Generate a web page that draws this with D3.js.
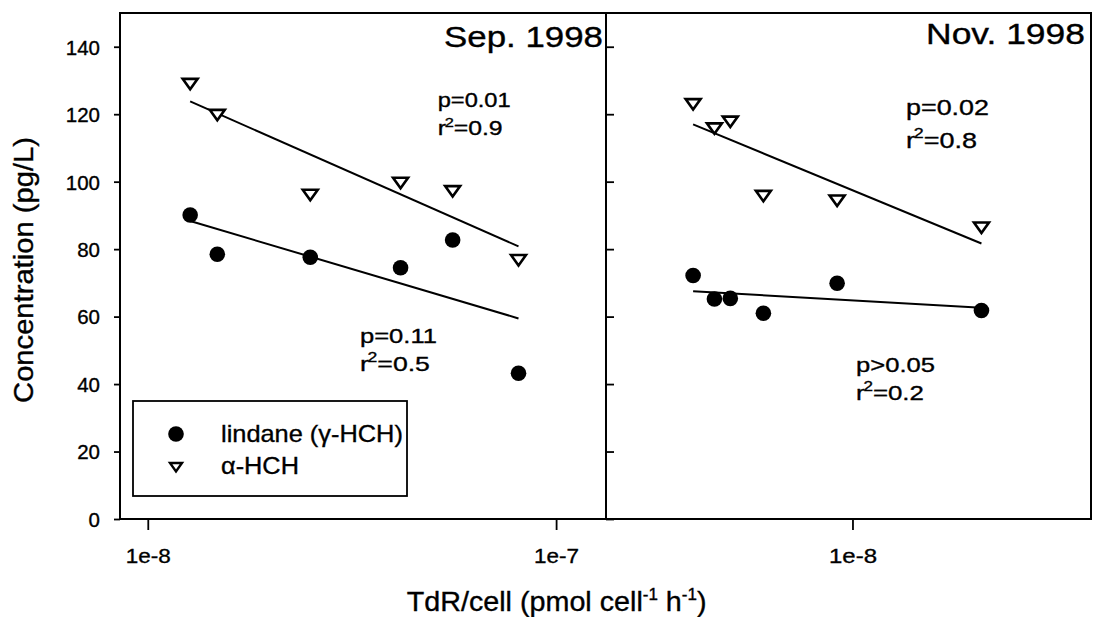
<!DOCTYPE html>
<html><head><meta charset="utf-8">
<script src="https://cdn.jsdelivr.net/npm/d3@7"></script>
<style>
body{margin:0;background:#fff}
svg{display:block}
text{font-family:"Liberation Sans",Arial,Helvetica,sans-serif;fill:#000;stroke:#000;stroke-width:0.35px}
</style></head>
<body><svg id="c" width="1095" height="617"></svg>
<script>
// ---- data ----
const sepX       = [1.27e-8, 1.48e-8, 2.50e-8, 4.16e-8, 5.58e-8, 8.09e-8];
const sepAlpha   = [129.0, 119.8, 96.1, 99.7, 97.2, 76.8];
const sepLindane = [90.1, 78.5, 77.6, 74.5, 82.7, 43.2];
const novX       = [4.07e-9, 4.59e-9, 5.02e-9, 6.05e-9, 9.17e-9, 2.07e-8];
const novAlpha   = [123.0, 115.8, 117.8, 95.8, 94.4, 86.4];
const novLindane = [72.2, 65.2, 65.4, 61.0, 69.9, 61.8];
const yTicks = [0, 20, 40, 60, 80, 100, 120, 140];
const sepTicks = [1e-8, 1e-7], sepTickLabels = ["1e-8", "1e-7"];
const novTicks = [1e-8],       novTickLabels = ["1e-8"];
const panelTitles = ["Sep. 1998", "Nov. 1998"];
const seriesNames = ["lindane (\u03b3-HCH)", "\u03b1-HCH"];
const sepStats = [["p=0.01", "0.9"], ["p=0.11", "0.5"]];   // alpha fit, lindane fit
const novStats = [["p=0.02", "0.8"], ["p>0.05", "0.2"]];

const svg = d3.select("#c");
const y = d3.scaleLinear().domain([0, 150]).range([519, 13]);

function place(t, x, yy, target, extra) {
  t.attr("x", 0).attr("y", 0);
  const w = t.node().getBBox().width;
  t.attr("transform", `translate(${x},${yy}) ${extra || ""} scale(${target / w},1)`);
}
function regress(xs, ys) {
  const lx = xs.map(Math.log10), mx = d3.mean(lx), my = d3.mean(ys);
  let sxy = 0, sxx = 0;
  lx.forEach((v, i) => { sxy += (v - mx) * (ys[i] - my); sxx += (v - mx) * (v - mx); });
  const b = sxy / sxx;
  return x => my + b * (Math.log10(x) - mx);
}
const triPath = "M-7.5,-5L7.5,-5L0,5.5Z";

const panels = [
  {x: sepX, a: sepAlpha, l: sepLindane, ticks: sepTicks, labels: sepTickLabels,
   domain: [8.55e-9, 1.325e-7], range: [120, 606], title: panelTitles[0], titleX: 603, titleY: 46.7,
   stats: sepStats,
   statPos: [{x: 437.7, y1: 106.7, y2: 135, fs: 19.5, w1: 73, w2: 65},
             {x: 360, y1: 343.3, y2: 370.7, fs: 21, w1: 77, w2: 70}],
   tickW: [45, 45]},
  {x: novX, a: novAlpha, l: novLindane, ticks: novTicks, labels: novTickLabels,
   domain: [2.49e-9, 3.84e-8], range: [606, 1091], title: panelTitles[1], titleX: 1085, titleY: 44.3,
   stats: novStats,
   statPos: [{x: 906, y1: 115, y2: 147.5, fs: 22, w1: 83, w2: 71},
             {x: 856, y1: 371.7, y2: 400, fs: 21, w1: 79, w2: 68}],
   tickW: [48]}
];

panels.forEach((p, pi) => {
  const x = d3.scaleLog().domain(p.domain).range(p.range);
  svg.append("rect").attr("x", p.range[0]).attr("y", y(150))
    .attr("width", p.range[1] - p.range[0]).attr("height", y(0) - y(150))
    .attr("fill", "none").attr("stroke", "#000").attr("stroke-width", 2);
  const xa = svg.append("g").attr("transform", `translate(0,${y(0)})`)
    .call(d3.axisBottom(x).tickValues(p.ticks).tickFormat((d, i) => p.labels[i]).tickSize(11));
  xa.select(".domain").remove();
  xa.selectAll("line").attr("stroke-width", 1.8);
  xa.selectAll("text").attr("font-size", 21).attr("dy", null)
    .each(function (d, i) { place(d3.select(this), 0, 43.7, p.tickW[i]); });
  if (pi === 0) {
    const ya = svg.append("g").attr("transform", `translate(${p.range[0]},0)`)
      .call(d3.axisLeft(y).tickValues(yTicks).tickSize(6).tickPadding(14));
    ya.select(".domain").remove();
    ya.selectAll("line").attr("stroke-width", 1.8);
    ya.selectAll("text").attr("font-size", 20.5).attr("dy", "0.36em");
  } else {
    const ya = svg.append("g").attr("transform", `translate(${p.range[0]},0)`)
      .call(d3.axisRight(y).tickValues(yTicks).tickSize(8).tickFormat(""));
    ya.select(".domain").remove();
    ya.selectAll("line").attr("stroke-width", 1.8);
  }
  [p.a, p.l].forEach(ys => {
    const f = regress(p.x, ys);
    const ends = d3.extent(p.x);
    svg.append("line").attr("x1", x(ends[0])).attr("y1", y(f(ends[0])))
      .attr("x2", x(ends[1])).attr("y2", y(f(ends[1])))
      .attr("stroke", "#000").attr("stroke-width", 2);
  });
  p.l.forEach((v, i) => svg.append("circle").attr("cx", x(p.x[i])).attr("cy", y(v))
    .attr("r", 7.8).attr("fill", "#000"));
  p.a.forEach((v, i) => svg.append("path").attr("d", triPath)
    .attr("transform", `translate(${x(p.x[i])},${y(v)})`)
    .attr("fill", "#fff").attr("stroke", "#000").attr("stroke-width", 2.6));
  const tt = svg.append("text").attr("font-size", 29).attr("text-anchor", "end").text(p.title);
  place(tt, p.titleX, p.titleY, 159);
  p.stats.forEach((s, si) => {
    const sp = p.statPos[si];
    const t1 = svg.append("text").attr("font-size", sp.fs).text(s[0]);
    place(t1, sp.x, sp.y1, sp.w1);
    const t2 = svg.append("text").attr("font-size", sp.fs);
    t2.append("tspan").text("r");
    t2.append("tspan").attr("font-size", sp.fs * 0.66).attr("dx", -1).attr("dy", -sp.fs * 0.42).text("2");
    t2.append("tspan").attr("dy", sp.fs * 0.42).text("=" + s[1]);
    place(t2, sp.x, sp.y2, sp.w2);
  });
});

// legend
svg.append("rect").attr("x", 133).attr("y", 401).attr("width", 274).attr("height", 95)
  .attr("fill", "#fff").attr("stroke", "#000").attr("stroke-width", 1.8);
svg.append("circle").attr("cx", 176).attr("cy", 434).attr("r", 7.8).attr("fill", "#000");
svg.append("path").attr("d", "M-6,-4L6,-4L0,4.5Z").attr("transform", "translate(176,467)")
  .attr("fill", "#fff").attr("stroke", "#000").attr("stroke-width", 2.4);
const l1 = svg.append("text").attr("font-size", 24).text(seriesNames[0]);
place(l1, 221, 441.7, 182);
const l2 = svg.append("text").attr("font-size", 24).text(seriesNames[1]);
place(l2, 221, 474.3, 78);

// axis titles
const yt = svg.append("text").attr("font-size", 28).attr("text-anchor", "middle").text("Concentration (pg/L)");
place(yt, 33, 270, 266, "rotate(-90)");
const xt = svg.append("text").attr("font-size", 27);
xt.append("tspan").text("TdR/cell (pmol cell");
xt.append("tspan").attr("font-size", 16).attr("dy", -11).text("-1");
xt.append("tspan").attr("dy", 11).text(" h");
xt.append("tspan").attr("font-size", 16).attr("dy", -11).text("-1");
xt.append("tspan").attr("dy", 11).text(")");
place(xt, 406.7, 610.7, 300);
</script></body></html>
